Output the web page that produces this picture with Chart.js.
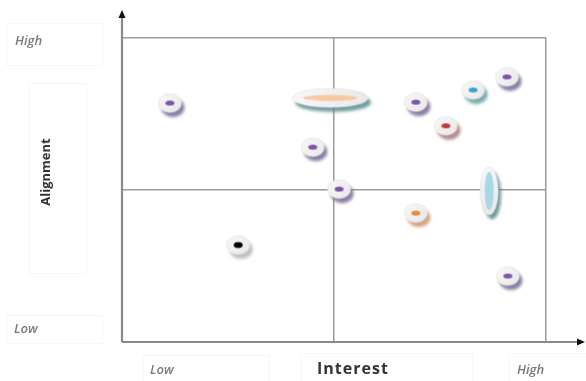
<!DOCTYPE html>
<html>
<head>
<meta charset="utf-8">
<script src="https://cdn.jsdelivr.net/npm/chart.js@4/dist/chart.umd.min.js"></script>
<style>
html,body{margin:0;padding:0;background:#fff;}
#wrap{width:586px;height:381px;position:relative;}
</style>
</head>
<body>
<div id="wrap"><canvas id="c" width="586" height="381"></canvas></div>
<script>
// ---- data ----
const xTickLabels = ['Low', 'High'];
const yTickLabels = ['Low', 'High'];
const xAxisTitle = 'Interest';
const yAxisTitle = 'Alignment';
const interestValues  = [1.13, 4.91, 4.50, 5.12, 2.74, 6.93, 7.64, 8.28, 9.08, 6.93, 8.66, 9.10];
const alignmentValues = [7.86, 8.03, 6.41, 5.03, 3.19, 7.89, 7.11, 8.29, 8.72, 4.24, 4.97, 2.17];
const markerKinds     = ['purple','wideOrange','purple','purple','black','purple','red','teal','purple','orange','tallBlue','purple'];

// ---- marker styles ----
const markerStyles = {
  purple:     {w:23, h:19, iw:9,  ih:5,  inner:'#7A55A8', shadow:'rgba(110,95,140,0.8)'},
  red:        {w:23, h:19, iw:9,  ih:5,  inner:'#C43A3A', shadow:'rgba(165,110,110,0.8)'},
  teal:       {w:23, h:19, iw:9,  ih:5,  inner:'#38A6C9', shadow:'rgba(95,150,160,0.8)'},
  orange:     {w:23, h:19, iw:9,  ih:5,  inner:'#E68A3E', shadow:'rgba(200,140,100,0.8)'},
  black:      {w:23, h:19, iw:9,  ih:6,  inner:'#000000', shadow:'rgba(150,150,150,0.6)'},
  wideOrange: {w:76, h:19, iw:54, ih:6,  inner:'#F7C9A2', shadow:'rgba(90,140,145,0.85)'},
  tallBlue:   {w:18, h:48, iw:9,  ih:38, inner:'#A8D7E6', shadow:'rgba(90,140,145,0.85)'}
};
function makeMarker(s){
  const pad = 10;
  const cw = s.w + pad*2, ch = s.h + pad*2;
  const cv = document.createElement('canvas');
  cv.width = cw; cv.height = ch;
  const ctx = cv.getContext('2d');
  const cx = cw/2, cy = ch/2;
  ctx.save();
  ctx.filter = 'blur(1.5px)';
  ctx.fillStyle = s.shadow;
  ctx.beginPath();
  ctx.ellipse(cx+3, cy+4.5, s.w/2, s.h/2, 0, 0, Math.PI*2);
  ctx.fill();
  ctx.restore();
  const g = ctx.createLinearGradient(cx - s.w/2, cy - s.h/2, cx + s.w/2, cy + s.h/2);
  g.addColorStop(0, '#f8f8f8');
  g.addColorStop(1, '#e8e8e8');
  ctx.fillStyle = g;
  ctx.beginPath();
  ctx.ellipse(cx, cy, s.w/2, s.h/2, 0, 0, Math.PI*2);
  ctx.fill();
  ctx.strokeStyle = 'rgba(215,215,215,0.8)';
  ctx.lineWidth = 0.6;
  ctx.stroke();
  ctx.fillStyle = s.inner;
  ctx.beginPath();
  ctx.ellipse(cx, cy, s.iw/2, s.ih/2, 0, 0, Math.PI*2);
  ctx.fill();
  return cv;
}
const markerCache = {};
Object.keys(markerStyles).forEach(k => markerCache[k] = makeMarker(markerStyles[k]));

const points = interestValues.map((x, i) => ({x: x, y: alignmentValues[i]}));

const decorPlugin = {
  id: 'decor',
  beforeDraw(chart){
    const ctx = chart.ctx;
    ctx.save();
    ctx.fillStyle = '#fff';
    ctx.fillRect(0,0,chart.width,chart.height);
    ctx.strokeStyle = '#f6f6f6';
    ctx.lineWidth = 1;
    [[6.5,23.5,96,42],[28.5,83.5,58,190],[6.5,315.5,96,28],[143.5,355.5,126,30],[300.5,353.5,172,30],[508.5,353.5,80,30]]
      .forEach(r => ctx.strokeRect(r[0],r[1],r[2],r[3]));
    ctx.restore();
  },
  beforeDatasetsDraw(chart){
    const ctx = chart.ctx;
    const a = chart.chartArea;
    ctx.save();
    ctx.strokeStyle = '#8a8a8a';
    ctx.lineWidth = 2.2;
    ctx.beginPath();
    ctx.moveTo(a.left, a.bottom);
    ctx.lineTo(a.left, 16);
    ctx.moveTo(a.left, a.bottom);
    ctx.lineTo(579, a.bottom);
    ctx.stroke();
    ctx.fillStyle = '#111';
    ctx.beginPath();
    ctx.moveTo(a.left, 10); ctx.lineTo(a.left-3.5, 18); ctx.lineTo(a.left+3.5, 18); ctx.closePath(); ctx.fill();
    ctx.beginPath();
    ctx.moveTo(585, a.bottom); ctx.lineTo(577, a.bottom-3.5); ctx.lineTo(577, a.bottom+3.5); ctx.closePath(); ctx.fill();
    ctx.fillStyle = '#7a7a7a';
    ctx.font = 'italic 600 13px "Open Sans"';
    ctx.textBaseline = 'middle';
    ctx.textAlign = 'left';
    ctx.fillText(yTickLabels[1], 15, 41);
    ctx.fillText(yTickLabels[0], 14, 329);
    ctx.fillText(xTickLabels[0], 150, 370);
    ctx.fillText(xTickLabels[1], 517, 370);
    ctx.fillStyle = '#333';
    ctx.font = 'bold 16px "Open Sans"';
    ctx.letterSpacing = '1px';
    ctx.fillText(xAxisTitle, 317, 369);
    ctx.letterSpacing = '0px';
    ctx.save();
    ctx.translate(46, 172);
    ctx.rotate(-Math.PI/2);
    ctx.textAlign = 'center';
    ctx.font = 'bold 13px "Open Sans"';
    ctx.fillText(yAxisTitle, 0, 0);
    ctx.restore();
    ctx.restore();
  }
};

new Chart(document.getElementById('c'), {
  type: 'scatter',
  data: {
    datasets: [{
      data: points,
      pointStyle: markerKinds.map(k => markerCache[k]),
      pointRadius: 10,
      pointHoverRadius: 10
    }]
  },
  options: {
    responsive: false,
    animation: false,
    events: [],
    layout: {padding: {left: 122, top: 38, right: 40, bottom: 39}},
    plugins: {legend: {display: false}, tooltip: {enabled: false}},
    scales: {
      x: {
        type: 'linear', min: 0, max: 10,
        ticks: {display: false, stepSize: 5},
        grid: {color: '#9a9a9a', lineWidth: 1.5, drawTicks: false},
        border: {display: false}
      },
      y: {
        type: 'linear', min: 0, max: 10,
        ticks: {display: false, stepSize: 5},
        grid: {color: '#9a9a9a', lineWidth: 1.5, drawTicks: false},
        border: {display: false}
      }
    }
  },
  plugins: [decorPlugin]
});
</script>
</body>
</html>
